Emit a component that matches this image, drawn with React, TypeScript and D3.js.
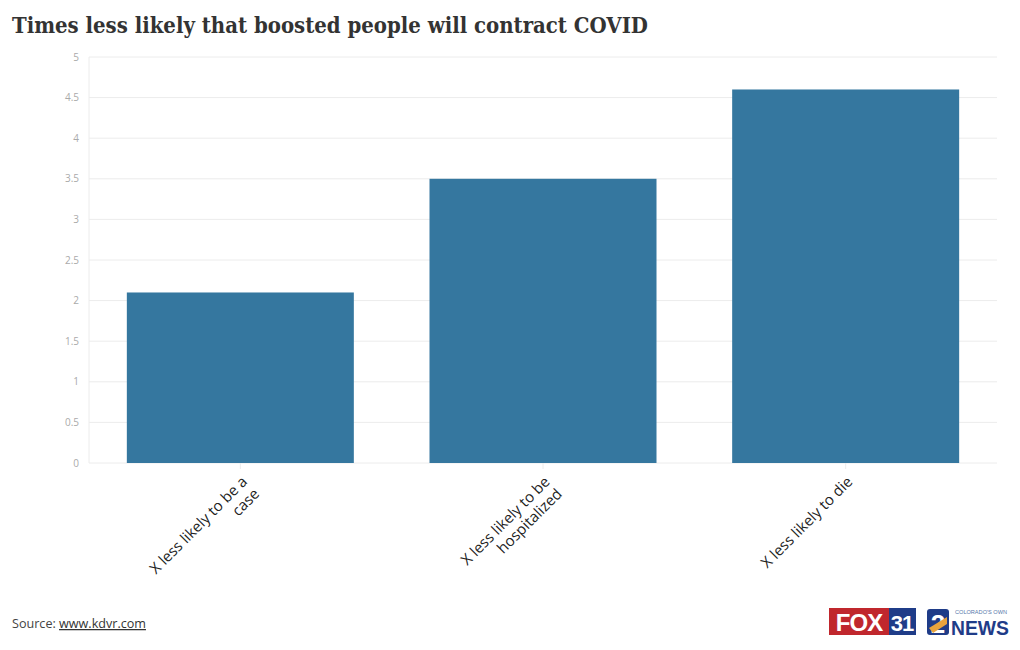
import React from "react";
import * as d3 from "d3";

const categories: string[][] = [
  ["X less likely to be a", "case"],
  ["X less likely to be", "hospitalized"],
  ["X less likely to die"],
];
const values: number[] = [2.1, 3.5, 4.6];
const yTicks: number[] = [0, 0.5, 1, 1.5, 2, 2.5, 3, 3.5, 4, 4.5, 5];

const W = 1020;
const H = 650;
const left = 89;
const right = 997;
const top = 57;
const bottom = 463;

export default function App() {
  const x = d3
    .scaleBand<number>()
    .domain(categories.map((_, i) => i))
    .range([left, right])
    .paddingInner(0.25)
    .paddingOuter(0.125);
  const y = d3.scaleLinear().domain([0, 5]).range([bottom, top]);
  const font = "'Open Sans', 'Noto Sans', sans-serif";

  return (
    <svg
      width={W}
      height={H}
      style={{ position: "absolute", left: 0, top: 0, background: "#fff" }}
    >
      <text
        x={12}
        y={33}
        fontFamily="'DejaVu Serif Condensed', 'DejaVu Serif', serif"
        fontWeight="bold"
        fontSize={22}
        fill="#333"
        textLength={636}
        lengthAdjust="spacingAndGlyphs"
      >
        Times less likely that boosted people will contract COVID
      </text>

      {yTicks.map((t) => (
        <g key={t}>
          <line x1={left} x2={right} y1={y(t)} y2={y(t)} stroke="#ececec" strokeWidth={1} />
          <text
            x={79}
            y={y(t)}
            dy="0.35em"
            textAnchor="end"
            fontFamily={font}
            fontSize={10}
            fill="#aaa"
          >
            {t}
          </text>
        </g>
      ))}
      <line x1={left} x2={left} y1={top} y2={bottom} stroke="#ececec" strokeWidth={1} />

      {values.map((v, i) => (
        <rect
          key={i}
          x={x(i)}
          y={y(v)}
          width={x.bandwidth()}
          height={bottom - y(v)}
          fill="#35779f"
        />
      ))}

      {categories.map((lines, i) => {
        const cx = (x(i) as number) + x.bandwidth() / 2;
        return (
          <g key={i}>
            <line x1={cx} x2={cx} y1={bottom} y2={bottom + 6} stroke="#ececec" />
            <g transform={`translate(${cx + 4},${bottom + 16}) rotate(-45)`}>
              <text textAnchor="end" fontFamily={font} fontSize={15} fill="#222">
                {lines.map((l, j) => (
                  <tspan key={j} x={0} dy={j === 0 ? "0.35em" : "1.15em"}>
                    {l}
                  </tspan>
                ))}
              </text>
            </g>
          </g>
        );
      })}

      <text x={12} y={628} fontFamily={font} fontSize={12.6} fill="#444">
        Source:{" "}
        <tspan textDecoration="underline" fill="#333">
          www.kdvr.com
        </tspan>
      </text>

      {/* FOX31 logo */}
      <g>
        <rect x={829} y={608} width={60} height={27} fill="#c0272d" />
        <text
          x={859}
          y={631}
          textAnchor="middle"
          fontFamily="'Liberation Sans', sans-serif"
          fontWeight="bold"
          fontSize={24}
          fill="#fff"
          letterSpacing={-1}
        >
          FOX
        </text>
        <rect x={889} y={608} width={27} height={27} fill="#1f3c88" />
        <text
          x={902}
          y={631}
          textAnchor="middle"
          fontFamily="'Liberation Sans', sans-serif"
          fontWeight="bold"
          fontSize={22}
          fill="#fff"
          letterSpacing={-1}
        >
          31
        </text>
      </g>
      {/* 2NEWS logo */}
      <g>
        <rect x={927} y={609} width={22} height={26} rx={3} fill="#1f3c88" />
        <text
          x={938}
          y={633}
          textAnchor="middle"
          fontFamily="'Liberation Sans', sans-serif"
          fontWeight="bold"
          fontSize={26}
          fill="#fff"
        >
          2
        </text>
        <path d="M929,628 L947,617 L947,624 L933,633 Z" fill="#e8a33d" />
        <text
          x={955}
          y={614}
          fontFamily="'Liberation Sans Narrow', 'Liberation Sans', sans-serif"
          fontSize={6}
          fill="#5577aa"
          textLength={52}
          lengthAdjust="spacingAndGlyphs"
        >
          COLORADO'S OWN
        </text>
        <text
          x={951}
          y={635}
          fontFamily="'Liberation Sans Narrow', 'Liberation Sans', sans-serif"
          fontWeight="bold"
          fontSize={21}
          fill="#1f3c88"
          textLength={58}
          lengthAdjust="spacingAndGlyphs"
        >
          NEWS
        </text>
      </g>
    </svg>
  );
}
